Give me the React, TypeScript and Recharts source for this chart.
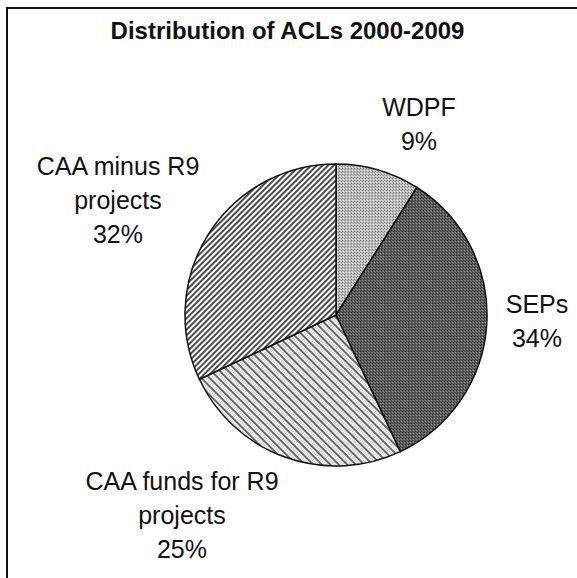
import { PieChart, Pie, Cell } from 'recharts'

const categories = ['WDPF', 'SEPs', 'CAA funds for R9\nprojects', 'CAA minus R9\nprojects']
const shares = [9, 34, 25, 32]
const fills = ['url(#wdpf)', 'url(#seps)', 'url(#caaFunds)', 'url(#caaMinus)']

// label anchor offsets from the pie centre (first baseline)
const LABEL_OFFSETS = [
  { dx: 83, dy: -199 },
  { dx: 201, dy: -2 },
  { dx: -154, dy: 175 },
  { dx: -218, dy: -140 },
]
const LINE_H = 34
const FONT = '"Liberation Sans", Arial, Helvetica, sans-serif'

const data = categories.map((name, i) => ({ name, value: shares[i] }))

function renderLabel(props: any) {
  const { cx, cy, index, name, value } = props
  const off = LABEL_OFFSETS[index]
  const lines = [...String(name).split('\n'), `${value}%`]
  const x = cx + off.dx
  return (
    <text x={x} y={cy + off.dy} textAnchor="middle" fontSize={25} fill="#111" fontFamily={FONT}>
      {lines.map((l, i) => (
        <tspan key={i} x={x} y={cy + off.dy + i * LINE_H}>
          {l}
        </tspan>
      ))}
    </text>
  )
}

export default function App() {
  return (
    <div style={{ position: 'absolute', left: 0, top: 0, width: 577, height: 578, overflow: 'hidden', background: '#fff' }}>
      <div
        style={{
          position: 'absolute',
          left: 6,
          top: 7,
          width: 620,
          height: 620,
          borderLeft: '2px solid #111',
          borderTop: '2px solid #111',
        }}
      />
      <div
        style={{
          position: 'absolute',
          top: 19,
          left: 0,
          width: 575,
          textAlign: 'center',
          fontFamily: FONT,
          fontWeight: 'bold',
          fontSize: 24,
          lineHeight: 1,
          color: '#111',
        }}
      >
        Distribution of ACLs 2000-2009
      </div>
      <div style={{ position: 'absolute', left: 0, top: 0 }}>
        <PieChart width={577} height={578}>
          <defs>
            <pattern id="wdpf" width="3" height="3" patternUnits="userSpaceOnUse">
              <rect width="3" height="3" fill="#bdbdbd" />
              <rect x="0" y="0" width="1" height="1" fill="#7a7a7a" />
              <rect x="2" y="1" width="1" height="1" fill="#8e8e8e" />
              <rect x="1" y="2" width="1" height="1" fill="#ececec" />
            </pattern>
            <pattern id="seps" width="3" height="3" patternUnits="userSpaceOnUse">
              <rect width="3" height="3" fill="#5e5e5e" />
              <rect x="0" y="0" width="1" height="1" fill="#2e2e2e" />
              <rect x="2" y="1" width="1" height="1" fill="#8e8e8e" />
              <rect x="1" y="2" width="1" height="1" fill="#3e3e3e" />
            </pattern>
            <pattern id="caaFunds" width="6" height="6" patternUnits="userSpaceOnUse" patternTransform="rotate(-45)">
              <rect width="6" height="6" fill="#fff" />
              <line x1="1" y1="0" x2="1" y2="6" stroke="#222" strokeWidth="1.4" />
              <line x1="4" y1="0" x2="4" y2="6" stroke="#7a7a7a" strokeWidth="1" strokeDasharray="1 1" />
            </pattern>
            <pattern id="caaMinus" width="4" height="4" patternUnits="userSpaceOnUse" patternTransform="rotate(45)">
              <rect width="4" height="4" fill="#fff" />
              <line x1="1" y1="0" x2="1" y2="4" stroke="#1e1e1e" strokeWidth="1.6" />
            </pattern>
          </defs>
          <Pie
            data={data}
            dataKey="value"
            nameKey="name"
            cx={331}
            cy={310}
            outerRadius={151}
            startAngle={90}
            endAngle={-270}
            stroke="#111"
            strokeWidth={1.5}
            label={renderLabel}
            labelLine={false}
            isAnimationActive={false}
          >
            {data.map((entry, i) => (
              <Cell key={`cell-${i}`} fill={fills[i]} />
            ))}
          </Pie>
        </PieChart>
      </div>
    </div>
  )
}
